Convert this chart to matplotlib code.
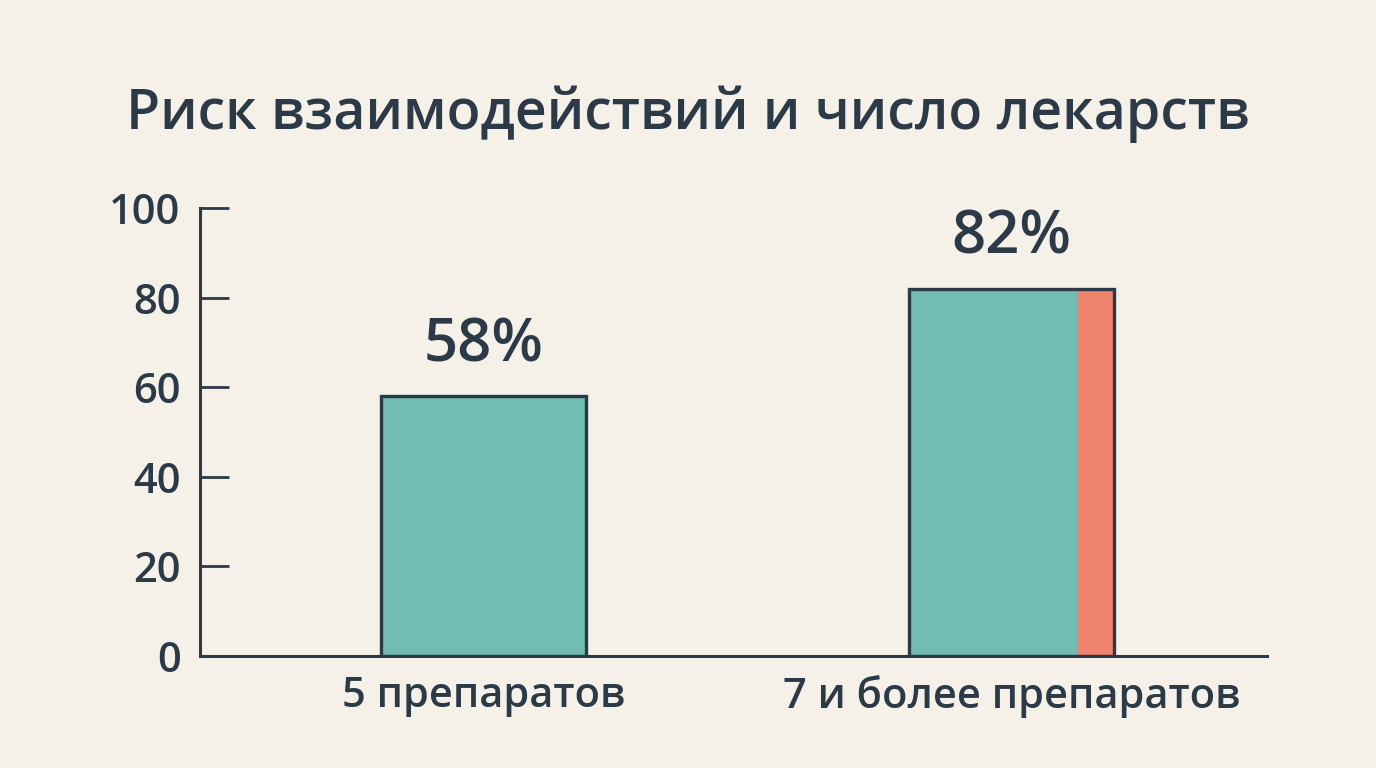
import matplotlib
matplotlib.use("Agg")
import matplotlib.pyplot as plt
from matplotlib import font_manager

categories = ["5 препаратов", "7 и более препаратов"]
values = [58, 82]
highlight_share = [0.0, 0.18]   # share of bar width coloured salmon
value_labels = ["58%", "82%"]
yticks = [0, 20, 40, 60, 80, 100]
title = "Риск взаимодействий и число лекарств"

names = {f.name for f in font_manager.fontManager.ttflist}
fam = [f for f in ["Open Sans", "DejaVu Sans"] if f in names]
plt.rcParams['font.family'] = fam
plt.rcParams['font.weight'] = 'semibold'

BG = "#F5F1E8"
INK = "#2B3A46"
TEAL = "#72BCB2"
SALMON = "#F0836C"

fig = plt.figure(figsize=(13.76, 7.68), dpi=100, facecolor=BG)
ax = fig.add_axes([200/1376, 112/768, 1067/1376, 448/768])
ax.set_facecolor(BG)

x = list(range(len(categories)))
w = 0.388
for xi, v, hs in zip(x, values, highlight_share):
    left = xi - w/2
    tw = w * (1 - hs)
    ax.bar(left, v, width=tw, align='edge', color=TEAL, edgecolor='none', zorder=2)
    if hs > 0:
        ax.bar(left + tw, v, width=w*hs, align='edge', color=SALMON, edgecolor='none', zorder=2)
    ax.bar(xi, v, width=w, fill=False, edgecolor=INK, linewidth=2.4, zorder=3)

for xi, v, lab in zip(x, values, value_labels):
    ax.annotate(lab, (xi, v), xytext=(0, 15), textcoords='offset points',
                ha='center', va='bottom', fontsize=43, color=INK)

ax.set_xlim(-0.537, 1.484)
ax.set_ylim(0, 100)
ax.set_yticks(yticks)
ax.set_xticks(x)
ax.set_xticklabels(categories)
for s in ['top', 'right']:
    ax.spines[s].set_visible(False)
for s in ['left', 'bottom']:
    ax.spines[s].set_color(INK)
    ax.spines[s].set_linewidth(2.2)
ax.tick_params(axis='y', direction='in', length=21, width=2, color=INK,
               labelsize=30, labelcolor=INK, pad=14)
ax.tick_params(axis='x', length=0, labelsize=30, labelcolor=INK, pad=14)

fig.text(0.5, 1 - 114/768, title, ha='center', va='center', fontsize=40, color=INK)

fig.savefig("out.png", dpi=100, facecolor=BG)
